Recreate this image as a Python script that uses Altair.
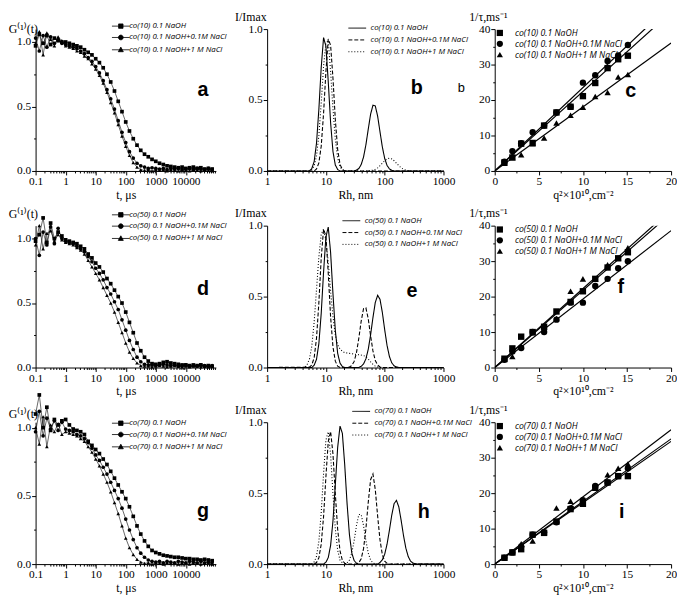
import altair as alt
import pandas as pd

SERIF = "Liberation Serif"
SANS = "Open Sans"
BOLD = "Liberation Sans"

# ---------------- column 1 : correlation functions G1(t) ----------------
T_US = [0.1, 0.133, 0.178, 0.237, 0.316, 0.422, 0.562, 0.75,
        1, 1.33, 1.78, 2.37, 3.16, 4.22, 5.62, 7.5,
        10, 13.3, 17.8, 23.7, 31.6, 42.2, 56.2, 75,
        100, 133, 178, 237, 316, 422, 562, 750,
        1000, 1330, 1780, 2370, 3160, 4220, 5620, 7500,
        10000, 13300, 17800, 23700, 31600, 42200, 56200, 75000]

g_a_naoh = [0.97, 1.06, 0.99, 1.05, 0.98, 1.03, 1.01, 1.00,
            1.00, 0.99, 0.98, 0.97, 0.96, 0.94, 0.92, 0.90,
            0.87, 0.84, 0.80, 0.75, 0.69, 0.62, 0.54, 0.46,
            0.38, 0.31, 0.25, 0.20, 0.16, 0.13, 0.11, 0.09,
            0.075, 0.06, 0.05, 0.04, 0.035, 0.03, 0.025, 0.03,
            0.02, 0.025, 0.03, 0.02, 0.025, 0.015, 0.02, 0.015]
g_a_nacl01 = [1.03, 0.93, 1.05, 0.96, 1.04, 0.99, 1.02, 0.99,
              0.98, 0.97, 0.96, 0.95, 0.93, 0.91, 0.88, 0.85,
              0.81, 0.76, 0.70, 0.63, 0.56, 0.48, 0.39, 0.30,
              0.22, 0.15, 0.10, 0.06, 0.04, 0.03, 0.02, 0.025,
              0.02, 0.015, 0.02, 0.01, 0.02, 0.015, 0.02, 0.01,
              0.015, 0.02, 0.01, 0.02, 0.015, 0.01, 0.02, 0.01]
g_a_nacl1 = [0.99, 1.08, 0.90, 1.07, 1.02, 0.97, 1.04, 1.01,
             0.97, 0.96, 0.95, 0.93, 0.92, 0.89, 0.87, 0.83,
             0.79, 0.74, 0.68, 0.61, 0.53, 0.45, 0.36, 0.27,
             0.19, 0.12, 0.065, 0.03, 0.01, 0.005, 0.01, 0.0,
             0.01, 0.005, 0.01, 0.0, 0.01, 0.005, 0.0, 0.01,
             0.005, 0.0, 0.01, 0.005, 0.0, 0.01, 0.005, 0.0]

g_d_naoh = [0.98, 1.03, 1.16, 0.97, 1.12, 1.00, 1.05, 1.02,
            0.99, 0.98, 0.97, 0.96, 0.94, 0.92, 0.88, 0.85,
            0.81, 0.78, 0.74, 0.69, 0.65, 0.60, 0.55, 0.50,
            0.43, 0.35, 0.27, 0.19, 0.13, 0.08, 0.05, 0.03,
            0.025, 0.03, 0.04, 0.045, 0.035, 0.03, 0.025, 0.02,
            0.02, 0.015, 0.02, 0.015, 0.02, 0.01, 0.015, 0.01]
g_d_nacl01 = [1.00, 0.87, 1.05, 0.95, 1.09, 0.96, 1.08, 1.00,
              0.98, 0.97, 0.96, 0.94, 0.92, 0.90, 0.86, 0.82,
              0.77, 0.73, 0.68, 0.62, 0.57, 0.51, 0.45, 0.37,
              0.29, 0.21, 0.14, 0.08, 0.045, 0.025, 0.02, 0.02,
              0.015, 0.02, 0.025, 0.02, 0.015, 0.02, 0.01, 0.015,
              0.02, 0.01, 0.015, 0.01, 0.02, 0.015, 0.01, 0.015]
g_d_nacl1 = [0.95, 1.10, 0.92, 1.04, 1.06, 0.98, 1.03, 0.99,
             0.97, 0.96, 0.95, 0.93, 0.91, 0.88, 0.83, 0.78,
             0.73, 0.68, 0.62, 0.56, 0.50, 0.43, 0.35, 0.27,
             0.19, 0.12, 0.07, 0.035, 0.015, 0.01, 0.01, 0.005,
             0.01, 0.015, 0.01, 0.005, 0.01, 0.015, 0.01, 0.005,
             0.01, 0.005, 0.01, 0.015, 0.005, 0.01, 0.005, 0.01]

g_g_naoh = [1.10, 1.24, 1.00, 1.15, 0.98, 1.06, 1.02, 1.05,
            1.06, 1.02, 0.99, 0.98, 0.97, 0.95, 0.90, 0.87,
            0.84, 0.81, 0.77, 0.73, 0.68, 0.63, 0.58, 0.53,
            0.48, 0.42, 0.35, 0.28, 0.22, 0.17, 0.13, 0.10,
            0.085, 0.075, 0.065, 0.06, 0.055, 0.05, 0.05, 0.045,
            0.04, 0.04, 0.035, 0.035, 0.03, 0.035, 0.03, 0.025]
g_g_nacl01 = [0.97, 1.12, 0.94, 1.07, 0.99, 1.05, 0.98, 1.04,
              0.99, 0.98, 0.97, 0.95, 0.94, 0.92, 0.89, 0.85,
              0.80, 0.76, 0.71, 0.66, 0.60, 0.54, 0.48, 0.41,
              0.33, 0.25, 0.18, 0.12, 0.08, 0.05, 0.03, 0.02,
              0.015, 0.02, 0.01, 0.02, 0.015, 0.01, 0.02, 0.015,
              0.01, 0.02, 0.015, 0.01, 0.02, 0.01, 0.015, 0.01]
g_g_nacl1 = [1.00, 0.88, 1.08, 0.86, 1.02, 0.97, 1.03, 0.95,
             0.97, 0.96, 0.95, 0.94, 0.92, 0.90, 0.86, 0.82,
             0.77, 0.72, 0.66, 0.60, 0.53, 0.45, 0.37, 0.28,
             0.19, 0.12, 0.07, 0.035, 0.015, 0.005, 0.01, 0.0,
             0.01, 0.005, 0.0, 0.01, 0.005, 0.01, 0.0, 0.005,
             0.01, 0.0, 0.005, 0.01, 0.0, 0.005, 0.01, 0.0]

# ---------------- column 2 : size distributions I/Imax(Rh) ----------------
rh_b_naoh = [1, 5.25, 5.75, 6.31, 6.92, 7.59, 8.32, 9.12, 10.0, 10.96, 12.02, 13.18, 14.45, 15.85, 17.38,
             30.2, 33.11, 36.31, 39.81, 43.65, 47.86, 52.48, 57.54, 63.1, 69.18, 75.86, 83.18, 91.2, 100,
             109.6, 120.2, 131.8, 144.5, 1000]
i_b_naoh = [0, 0, 0.017, 0.066, 0.196, 0.435, 0.73, 0.94, 0.88, 0.63, 0.34, 0.137, 0.042, 0.01, 0,
            0, 0.006, 0.017, 0.045, 0.098, 0.184, 0.294, 0.40, 0.463, 0.458, 0.386, 0.276, 0.169, 0.088,
            0.039, 0.015, 0.005, 0, 0]
rh_b_nacl01 = [1, 6.31, 6.92, 7.59, 8.32, 9.12, 10.0, 10.96, 12.02, 13.18, 14.45, 15.85, 17.38, 19.05, 20.89, 1000]
i_b_nacl01 = [0, 0, 0.014, 0.057, 0.175, 0.405, 0.70, 0.93, 0.886, 0.654, 0.363, 0.151, 0.047, 0.011, 0, 0]
rh_b_nacl1 = [1, 5.25, 5.75, 6.31, 6.92, 7.59, 8.32, 9.12, 10.0, 10.96, 12.02, 13.18, 14.45, 15.85, 17.38,
              19.05, 20.89, 52.48, 57.54, 63.1, 69.18, 75.86, 83.18, 91.2, 100, 109.6, 120.2, 131.8,
              144.5, 158.5, 173.8, 190.5, 208.9, 229.1, 251.2, 275.4, 1000]
i_b_nacl1 = [0, 0, 0.01, 0.036, 0.106, 0.251, 0.48, 0.736, 0.90, 0.92, 0.70, 0.44, 0.224, 0.091, 0.03,
             0.008, 0, 0, 0.0025, 0.006, 0.012, 0.022, 0.037, 0.055, 0.072, 0.085, 0.09, 0.085,
             0.072, 0.055, 0.037, 0.022, 0.012, 0.006, 0.0025, 0, 0]

rh_e_naoh = [1, 5.75, 6.31, 6.92, 7.59, 8.32, 9.12, 10.0, 10.96, 12.02, 13.18, 14.45, 15.85, 17.38, 19.05,
             20.89, 36.31, 39.81, 43.65, 47.86, 52.48, 57.54, 63.1, 69.18, 75.86, 83.18, 91.2, 100,
             109.6, 120.2, 131.8, 144.5, 158.5, 173.8, 1000]
i_e_naoh = [0, 0, 0.016, 0.058, 0.169, 0.382, 0.672, 0.92, 0.99, 0.81, 0.52, 0.262, 0.10, 0.031, 0.007,
            0, 0, 0.009, 0.025, 0.061, 0.128, 0.23, 0.352, 0.459, 0.509, 0.481, 0.388, 0.266,
            0.156, 0.078, 0.033, 0.012, 0.004, 0, 0]
rh_e_nacl01 = [1, 5.25, 5.75, 6.31, 6.92, 7.59, 8.32, 9.12, 10.0, 10.96, 12.02, 13.18, 14.45, 15.85, 17.38,
               22.91, 25.12, 27.54, 30.2, 33.11, 36.31, 39.81, 43.65, 47.86, 52.48, 57.54, 63.1, 69.18,
               75.86, 83.18, 91.2, 1000]
i_e_nacl01 = [0, 0.003, 0.018, 0.069, 0.206, 0.458, 0.771, 0.975, 0.928, 0.664, 0.356, 0.145, 0.045, 0.01, 0,
              0, 0.004, 0.014, 0.043, 0.105, 0.207, 0.327, 0.415, 0.421, 0.344, 0.224, 0.117, 0.049,
              0.017, 0.004, 0, 0]
rh_e_nacl1 = [1, 4.365, 4.786, 5.25, 5.75, 6.31, 6.92, 7.59, 8.32, 9.12, 10.0, 10.96, 12.02, 13.18, 14.45,
              15.85, 17.38, 19.05, 20.89, 25.12, 30.2, 36.31, 43.65, 47.86, 52.48, 57.54, 63.1, 69.18,
              75.86, 83.18, 1000]
i_e_nacl1 = [0, 0, 0.02, 0.06, 0.15, 0.32, 0.55, 0.78, 0.94, 0.975, 0.90, 0.74, 0.54, 0.36, 0.23,
             0.16, 0.13, 0.115, 0.105, 0.10, 0.095, 0.09, 0.085, 0.075, 0.06, 0.04, 0.022, 0.01,
             0.004, 0, 0]

rh_h_naoh = [1, 9.12, 10.0, 10.96, 12.02, 13.18, 14.45, 15.85, 17.38, 19.05, 20.89, 22.91, 25.12, 27.54,
             30.2, 33.11, 36.31, 75.86, 83.18, 91.2, 100, 109.6, 120.2, 131.8, 144.5, 158.5, 173.8,
             190.5, 208.9, 229.1, 251.2, 275.4, 302, 331.1, 363.1, 1000]
i_h_naoh = [0, 0, 0.013, 0.046, 0.132, 0.304, 0.559, 0.823, 0.973, 0.921, 0.70, 0.426, 0.208, 0.079,
            0.025, 0.006, 0, 0, 0.011, 0.030, 0.070, 0.140, 0.238, 0.345, 0.426, 0.449, 0.403,
            0.308, 0.201, 0.112, 0.053, 0.021, 0.007, 0.002, 0, 0]
rh_h_nacl01 = [1, 6.31, 6.92, 7.59, 8.32, 9.12, 10.0, 10.96, 12.02, 13.18, 14.45, 15.85, 17.38, 19.05,
               20.89, 22.91, 30.2, 33.11, 36.31, 39.81, 43.65, 47.86, 52.48, 57.54, 63.1, 69.18, 75.86,
               83.18, 91.2, 100, 109.6, 120.2, 1000]
i_h_nacl01 = [0, 0, 0.011, 0.045, 0.14, 0.334, 0.616, 0.864, 0.935, 0.776, 0.496, 0.245, 0.093, 0.026,
              0.006, 0, 0, 0.002, 0.01, 0.038, 0.109, 0.247, 0.435, 0.595, 0.635, 0.525, 0.338,
              0.17, 0.066, 0.02, 0.005, 0, 0]
rh_h_nacl1 = [1, 5.75, 6.31, 6.92, 7.59, 8.32, 9.12, 10.0, 10.96, 12.02, 13.18, 14.45, 15.85, 17.38,
              19.05, 20.89, 22.91, 25.12, 27.54, 30.2, 33.11, 36.31, 39.81, 43.65, 47.86, 52.48, 57.54,
              63.1, 69.18, 75.86, 1000]
i_h_nacl1 = [0, 0, 0.015, 0.055, 0.161, 0.363, 0.638, 0.874, 0.932, 0.771, 0.496, 0.249, 0.098, 0.029,
             0.01, 0.006, 0.01, 0.029, 0.078, 0.165, 0.272, 0.349, 0.349, 0.272, 0.165, 0.078, 0.029,
             0.008, 0.002, 0, 0]

# ---------------- column 3 : relaxation rate vs q^2 ----------------
Q2 = [1.1, 2.0, 3.0, 4.3, 5.6, 7.0, 8.6, 10.0, 11.4, 12.8, 14.0, 15.1]
r_c_naoh = [2.4, 3.8, 7.7, 7.9, 12.8, 16.5, 18.1, 21.1, 24.8, 29.0, 31.5, 32.5]
r_c_nacl01 = [2.6, 5.6, 7.8, 10.9, 12.8, 16.5, 18.1, 24.9, 27.0, 31.0, 32.6, 35.5]
r_c_nacl1 = [2.2, 3.8, 4.6, 7.7, 9.3, 13.5, 15.7, 18.0, 21.0, 22.1, 26.5, 27.2]
fit_c_end = [44.8, 47.0, 36.1]

r_f_naoh = [2.5, 5.4, 8.7, 10.0, 11.5, 15.8, 18.5, 21.5, 25.0, 28.2, 30.8, 32.5]
r_f_nacl01 = [2.2, 4.5, 5.5, 10.0, 10.0, 13.5, 18.3, 18.3, 23.0, 25.0, 28.0, 30.0]
r_f_nacl1 = [2.3, 3.1, 6.0, 9.8, 11.5, 13.8, 21.5, 25.0, 25.0, 29.0, 30.8, 33.8]
fit_f_end = [43.5, 38.6, 44.5]

r_i_naoh = [1.8, 3.3, 4.2, 8.3, 8.8, 12.0, 15.5, 17.0, 21.5, 23.0, 24.8, 24.8]
r_i_nacl01 = [1.8, 3.3, 5.0, 8.3, 9.0, 11.8, 15.7, 18.0, 22.0, 23.0, 24.8, 27.0]
r_i_nacl1 = [1.8, 3.3, 5.7, 6.5, 9.0, 15.8, 17.7, 18.0, 21.5, 25.2, 27.0, 28.2]
fit_i_end = [34.6, 35.3, 37.9]

FIT_X = [0, 20]

# ---------------- layout / style ----------------
W = [183, 179, 179]
H = 144
LEG1_PATHS = ["M-3,0L3,0M-0.75,-0.75L0.75,-0.75L0.75,0.75L-0.75,0.75Z",
              "M-3,0L3,0M-0.8,0A0.8,0.8,0,1,0,0.8,0A0.8,0.8,0,1,0,-0.8,0Z",
              "M-3,0L3,0M0,-0.9L0.85,0.65L-0.85,0.65Z"]


def names_for(co):
    return [f"co({co}) 0.1 NaOH", f"co({co}) 0.1 NaOH+0.1M NaCl", f"co({co}) 0.1 NaOH+1 M NaCl"]


def legend(lx, ly, **kw):
    props = dict(orient="none", legendX=lx, legendY=ly, title=None, padding=0, direction="vertical",
                 labelFont=SANS, labelFontStyle="italic", labelColor="black")
    props.update(kw)
    return alt.Legend(**props)


def letter_layer(letter, lx, ly, size=20, weight="bold"):
    return alt.Chart(pd.DataFrame({"lab": [letter]})).mark_text(
        font=BOLD, fontSize=size, fontWeight=weight, align="center", baseline="middle", color="black"
    ).encode(text="lab:N", x=alt.value(lx), y=alt.value(ly))


def minor_layer(xs, ys, xvals, yvals):
    df = pd.DataFrame({"mx": [xvals[0]], "my": [yvals[0]]})
    return alt.Chart(df).mark_point(opacity=0).encode(
        x=alt.X("mx:Q", scale=xs, axis=alt.Axis(orient="bottom", values=xvals, labels=False, domain=False,
                                                 tickSize=2, title=None, grid=False)),
        y=alt.Y("my:Q", scale=ys, axis=alt.Axis(orient="left", values=yvals, labels=False, domain=False,
                                                 tickSize=2, title=None, grid=False)))


LOG_MINOR_1 = [m * 10.0 ** k for k in range(-1, 5) for m in range(2, 10)]
LOG_MINOR_2 = [m * 10.0 ** k for k in range(0, 3) for m in range(2, 10)]


def x_axis(values, title, fmt):
    return alt.Axis(orient="bottom", values=values, format=fmt, title=title, labelOverlap=False,
                    labelFlush=False, titleFontWeight="normal")


def y_axis(values, title, fmt, tx, ty):
    return alt.Axis(orient="left", values=values, format=fmt, title=title, titleAngle=0, titleX=tx,
                    titleY=ty, titleAlign="center", titleBaseline="alphabetic", titleFontWeight="normal")


def corr_panel(co, series, ydom, title_y, leg_y, letter, lxy):
    names = names_for(co)
    df = pd.DataFrame([{"t": t, "g": g, "series": n}
                       for n, vals in zip(names, series) for t, g in zip(T_US, vals)])
    xs = alt.Scale(type="log", domain=[0.1, 100000])
    ys = alt.Scale(domain=ydom)
    base = alt.Chart(df)
    lines = base.mark_line(color="black", strokeWidth=0.6).encode(
        x=alt.X("t:Q", scale=xs, axis=x_axis([0.1, 1, 10, 100, 1000, 10000], "t, μs", "~g")),
        y=alt.Y("g:Q", scale=ys, axis=y_axis([0, 0.5, 1.0], "G⁽¹⁾(t)", ".1f", -13, title_y)),
        detail="series:N")
    pts = base.mark_point(filled=True, color="black", size=14, opacity=1).encode(
        x=alt.X("t:Q", scale=xs, axis=None), y=alt.Y("g:Q", scale=ys, axis=None),
        shape=alt.Shape("series:N", scale=alt.Scale(domain=names, range=["square", "circle", "triangle-up"]),
                        legend=None))
    leg = alt.Chart(pd.DataFrame({"series": names})).transform_filter("false").mark_point(
        filled=True, color="black", stroke="black", strokeWidth=0.8, opacity=1).encode(
        shape=alt.Shape("series:N", scale=alt.Scale(domain=names, range=LEG1_PATHS),
                        legend=legend(82.5, leg_y, symbolSize=36, symbolStrokeWidth=0.8, labelOffset=4.5,
                                      labelFontSize=8, rowPadding=3.5)))
    minor = minor_layer(xs, ys, LOG_MINOR_1, [0.25, 0.75])
    return alt.layer(lines, pts, minor, leg, letter_layer(letter, *lxy)).resolve_scale(
        shape="independent").resolve_axis(x="independent", y="independent").properties(width=W[0], height=H)


def dist_panel(co, rhs, ints, leg_xy, letter, lxy, extra=None):
    names = names_for(co)
    df = pd.DataFrame([{"rh": r, "i": v, "series": n}
                       for n, rr, vv in zip(names, rhs, ints) for r, v in zip(rr, vv)])
    xs = alt.Scale(type="log", domain=[1, 1000])
    ys = alt.Scale(domain=[0, 1])
    lines = alt.Chart(df).mark_line(color="black", strokeWidth=1.1).encode(
        x=alt.X("rh:Q", scale=xs, axis=x_axis([1, 10, 100, 1000], "Rh, nm", "~g")),
        y=alt.Y("i:Q", scale=ys, axis=y_axis([0, 0.5, 1.0], "I/Imax", ".1f", -17, -9)),
        strokeDash=alt.StrokeDash("series:N", scale=alt.Scale(domain=names, range=[[1, 0], [4, 2], [1, 2]]),
                                  legend=legend(leg_xy[0], leg_xy[1], symbolType="M-3,0L3,0", symbolSize=36,
                                                symbolStrokeWidth=1, symbolStrokeColor="black",
                                                labelOffset=9.5, labelFontSize=8, rowPadding=4)))
    layers = [lines, minor_layer(xs, ys, LOG_MINOR_2, [0.25, 0.75]), letter_layer(letter, *lxy)]
    if extra:
        layers.append(letter_layer(extra[0], extra[1], extra[2], size=13, weight="normal"))
    return alt.layer(*layers).resolve_axis(x="independent", y="independent").properties(width=W[1], height=H)


def rate_panel(co, rates, fit_end, title_y, leg_y, letter, lxy):
    names = names_for(co)
    df = pd.DataFrame([{"q2": q, "rate": r, "series": n}
                       for n, rr in zip(names, rates) for q, r in zip(Q2, rr)])
    fit_df = pd.DataFrame([{"q2": x, "rate": y, "series": n}
                           for n, e in zip(names, fit_end) for x, y in zip(FIT_X, [0, e])])
    xs = alt.Scale(domain=[0, 20])
    ys = alt.Scale(domain=[0, 40])
    fits = alt.Chart(fit_df).mark_line(color="black", strokeWidth=1.2, clip=True).encode(
        x=alt.X("q2:Q", scale=xs, axis=x_axis([0, 5, 10, 15, 20], "q²×10¹⁰,cm⁻²", "d")),
        y=alt.Y("rate:Q", scale=ys, axis=y_axis([0, 10, 20, 30, 40], "1/τ,ms⁻¹", "d", -7, title_y)),
        detail="series:N")
    pts = alt.Chart(df).mark_point(filled=True, color="black", size=42, opacity=1).encode(
        x=alt.X("q2:Q", scale=xs, axis=None), y=alt.Y("rate:Q", scale=ys, axis=None),
        shape=alt.Shape("series:N", scale=alt.Scale(domain=names, range=["square", "circle", "triangle-up"]),
                        legend=legend(0.8, leg_y, symbolSize=40, labelOffset=11, labelFontSize=8.8,
                                      rowPadding=-2.5)))
    minor = minor_layer(xs, ys, [2.5, 7.5, 12.5, 17.5], [5, 15, 25, 35])
    return alt.layer(fits, pts, minor, letter_layer(letter, *lxy)).resolve_axis(
        x="independent", y="independent").properties(width=W[2], height=H)


panels = [
    corr_panel(10, [g_a_naoh, g_a_nacl01, g_a_nacl1], [0, 1.1], 3, -7, "a", (170, 62)),
    dist_panel(10, [rh_b_naoh, rh_b_nacl01, rh_b_nacl1], [i_b_naoh, i_b_nacl01, i_b_nacl1],
               (87.5, -5), "b", (152, 60), extra=("b", 197, 60)),
    rate_panel(10, [r_c_naoh, r_c_nacl01, r_c_nacl1], fit_c_end, -9, -0.5, "c", (138, 63)),
    corr_panel(50, [g_d_naoh, g_d_nacl01, g_d_nacl1], [0, 1.1], -8, -15, "d", (170, 64)),
    dist_panel(50, [rh_e_naoh, rh_e_nacl01, rh_e_nacl1], [i_e_naoh, i_e_nacl01, i_e_nacl1],
               (81.5, -9), "e", (147, 66)),
    rate_panel(50, [r_f_naoh, r_f_nacl01, r_f_nacl1], fit_f_end, -9, -0.5, "f", (128, 62)),
    corr_panel(70, [g_g_naoh, g_g_nacl01, g_g_nacl1], [0, 1.04], -5, -3, "g", (170, 90)),
    dist_panel(70, [rh_h_naoh, rh_h_nacl01, rh_h_nacl1], [i_h_naoh, i_h_nacl01, i_h_nacl1],
               (91.5, -15), "h", (159, 91)),
    rate_panel(70, [r_i_naoh, r_i_nacl01, r_i_nacl1], fit_i_end, -9, -0.5, "i", (129, 91)),
]

chart = alt.concat(*panels, columns=3, spacing={"row": 55.5, "column": 52}, bounds="flush").resolve_scale(
    x="independent", y="independent", shape="independent", strokeDash="independent"
).properties(padding={"top": -2, "left": 0, "right": 0, "bottom": 0}, background="white").configure_view(
    stroke=None).configure_axis(
    domainColor="black", tickColor="black", labelColor="black", titleColor="black",
    labelFont=SERIF, titleFont=SERIF, labelFontSize=11.5, titleFontSize=12, titleFontWeight="normal",
    grid=False, tickSize=4, labelPadding=1, titlePadding=2, domainWidth=1, tickWidth=1)

chart.save("out.html", embed_options={"renderer": "svg", "actions": False})
